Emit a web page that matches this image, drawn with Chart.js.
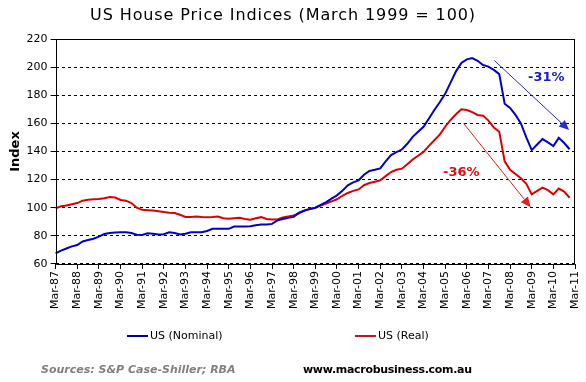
<!DOCTYPE html>
<html>
<head>
<meta charset="utf-8">
<script src="https://cdn.jsdelivr.net/npm/chart.js@4"></script>
<style>
  body { margin: 0; background: #fff; font-family: "DejaVu Sans", Verdana, sans-serif; }
  #wrap { position: relative; width: 586px; height: 382px; overflow: hidden; }
  #chart { position: absolute; left: 0; top: 0; }
  .txt { position: absolute; white-space: nowrap; line-height: 16px; }
  .key { display: inline-block; width: 21px; height: 2px; vertical-align: middle; margin-right: 2px; }
</style>
</head>
<body>
<div id="wrap">
  <canvas id="chart" width="586" height="382"></canvas>
  <div class="txt" style="left:0; width:566px; top:7px; text-align:center; font-size:16px; letter-spacing:0.9px;">US House Price Indices (March 1999 = 100)</div>
  <div class="txt" style="left:127px; top:328px; font-size:11px;"><span class="key" style="background:#0000a8"></span>US (Nominal)</div>
  <div class="txt" style="left:355px; top:328px; font-size:11px;"><span class="key" style="background:#c01818"></span>US (Real)</div>
  <div class="txt" style="left:41px; top:362px; font-size:11px; font-weight:bold; font-style:italic; color:#808080;">Sources: S&amp;P Case-Shiller; RBA</div>
  <div class="txt" style="left:303px; top:362px; font-size:11px; font-weight:bold; color:#000; letter-spacing:-0.3px;">www.macrobusiness.com.au</div>
</div>
<script>
// quarterly axis Mar-87 .. Mar-11
const years = ['87','88','89','90','91','92','93','94','95','96','97','98','99',
               '00','01','02','03','04','05','06','07','08','09','10','11'];
const months = ['Mar', 'Jun', 'Sep', 'Dec'];

// nominal index, Mar-87 .. Dec-10
const nominal = [
  67.5, 69.5, 71, 72.5,   73.5, 76, 77, 78,   79.5, 81.3, 82, 82.4,
  82.6, 82.6, 82, 80.8,   80.7, 81.8, 81.5, 81,   81.2, 82.6, 82, 81,
  81.5, 82.6, 82.6, 82.6,   83.5, 85, 85, 85,   85, 86.6, 86.6, 86.6,
  86.8, 87.5, 88, 88,   88.5, 91, 92, 92.8,   93.5, 96.5, 98, 99,
  100, 102, 104, 106.5,   108.8, 112, 116, 118,   119.5, 123.5, 126.2, 127,
  128, 133, 137.4, 139.5,   141.4, 145.5, 150.4, 154,   157.6, 163.5, 169.5, 175,
  181, 189, 197, 203,   205.5, 206.4, 204.5, 201.5,   200.4, 198, 195, 174,
  171, 166, 160, 150,   141, 145, 148.8, 146.5,   143.8, 149.7, 146, 141.6
];

// real index, Mar-87 .. Dec-10
const real = [
  99.5, 101, 101.6, 102.5,   103.3, 105, 105.7, 106,   106.2, 106.8, 107.6, 107.3,
  105.5, 105, 103.3, 100,   98.5, 98.3, 98.1, 97.5,   96.9, 96.5, 96.2, 95,
  93.5, 93.5, 93.8, 93.5,   93.3, 93.5, 93.8, 92.5,   92.1, 92.5, 92.8, 92,
  91.4, 92.5, 93.3, 92,   91.6, 91.6, 93, 93.8,   94.5, 96, 98, 99.3,
  100, 101.5, 103, 104.5,   106, 108.5, 110.5, 112,   113, 116, 117.6, 118.5,
  119.5, 122.5, 125.4, 127,   127.8, 131, 134.3, 137,   139.7, 144, 148, 152,
  157.6, 162.4, 166.5, 170,   169.5, 168, 166, 165.5,   162, 157, 154, 133,
  127, 124, 121, 117,   109.5, 112, 114.3, 112.5,   109.5, 113.6, 111.5, 107.1
];

const labels = [];
years.forEach((y, i) => {
  months.forEach(m => {
    if (i < years.length - 1 || m === 'Mar') labels.push(m + '-' + y);
  });
});

// annotation arrows: [fromIndex, fromValue, toIndex, toValue]
const arrowNominal = [81.1, 204.7, 94.9, 155.2];
const arrowReal = [75.4, 160, 87.8, 100.4];

const BLUE = '#0000cc';
const RED = '#dd0000';

const frame = {
  id: 'frame',
  afterDatasetsDraw(chart) {
    const { ctx, chartArea: a, scales: { x, y } } = chart;
    const L = Math.round(a.left) + 0.5, R = Math.round(a.right) - 0.5;
    const T = Math.round(a.top) + 0.5, B = Math.round(a.bottom) + 0.5;
    ctx.save();
    ctx.strokeStyle = '#000';
    ctx.lineWidth = 1;
    ctx.setLineDash([]);
    ctx.beginPath();
    ctx.moveTo(L, T); ctx.lineTo(R, T); ctx.lineTo(R, B); ctx.lineTo(L, B); ctx.closePath();
    ctx.stroke();

    const arrow = (arr, color, width) => {
      const x1 = x.getPixelForValue(arr[0]), y1 = y.getPixelForValue(arr[1]);
      const x2 = x.getPixelForValue(arr[2]), y2 = y.getPixelForValue(arr[3]);
      const ang = Math.atan2(y2 - y1, x2 - x1);
      const hl = 10, hw = 4.5;
      ctx.strokeStyle = color;
      ctx.fillStyle = color;
      ctx.lineWidth = width;
      ctx.beginPath();
      ctx.moveTo(x1, y1);
      ctx.lineTo(x2 - Math.cos(ang) * hl, y2 - Math.sin(ang) * hl);
      ctx.stroke();
      ctx.beginPath();
      ctx.moveTo(x2, y2);
      ctx.lineTo(x2 - Math.cos(ang) * hl - Math.sin(ang) * hw, y2 - Math.sin(ang) * hl + Math.cos(ang) * hw);
      ctx.lineTo(x2 - Math.cos(ang) * hl + Math.sin(ang) * hw, y2 - Math.sin(ang) * hl - Math.cos(ang) * hw);
      ctx.closePath();
      ctx.fill();
    };
    arrow(arrowNominal, '#2a2ad0', 1);
    arrow(arrowReal, '#e02020', 1);

    ctx.font = 'bold 13px "DejaVu Sans", Verdana, sans-serif';
    ctx.textAlign = 'center';
    ctx.textBaseline = 'middle';
    ctx.fillStyle = '#1818c8';
    ctx.fillText('-31%', x.getPixelForValue(90.7), y.getPixelForValue(192.4));
    ctx.fillStyle = '#dd1010';
    ctx.fillText('-36%', x.getPixelForValue(75), y.getPixelForValue(125.2));
    ctx.restore();
  }
};

new Chart(document.getElementById('chart'), {
  type: 'line',
  data: {
    labels: labels,
    datasets: [
      { label: 'US (Nominal)', data: nominal, borderColor: BLUE, borderWidth: 2, pointRadius: 0, tension: 0 },
      { label: 'US (Real)', data: real, borderColor: RED, borderWidth: 2, pointRadius: 0, tension: 0 }
    ]
  },
  options: {
    responsive: false,
    animation: false,
    events: [],
    layout: { padding: { left: 8, right: 11, top: 39, bottom: 71 } },
    plugins: { legend: { display: false }, tooltip: { enabled: false } },
    scales: {
      x: {
        offset: false,
        afterFit: s => { s.paddingRight = 0; },
        grid: {
          display: true, drawOnChartArea: false, drawTicks: true, tickLength: 5, tickWidth: 1,
          tickColor: c => (c.index % 4 === 0 ? '#000' : 'rgba(0,0,0,0)')
        },
        border: { display: false },
        ticks: {
          autoSkip: false, maxRotation: 90, minRotation: 90, padding: 2,
          color: '#000', font: { family: '"DejaVu Sans", Verdana, sans-serif', size: 11 },
          callback: (v, i) => (i % 4 === 0 ? labels[i] : '')
        }
      },
      y: {
        min: 60, max: 220,
        grid: { color: '#000', tickColor: '#000', tickLength: 5, tickBorderDash: [] },
        border: { display: false, dash: [3, 3] },
        ticks: { stepSize: 20, padding: 3, color: '#000', font: { family: '"DejaVu Sans", Verdana, sans-serif', size: 11 } },
        title: { display: true, text: 'Index', color: '#000', padding: 0, font: { family: '"DejaVu Sans", Verdana, sans-serif', size: 13, weight: 'bold' } }
      }
    }
  },
  plugins: [frame]
});
</script>
</body>
</html>
